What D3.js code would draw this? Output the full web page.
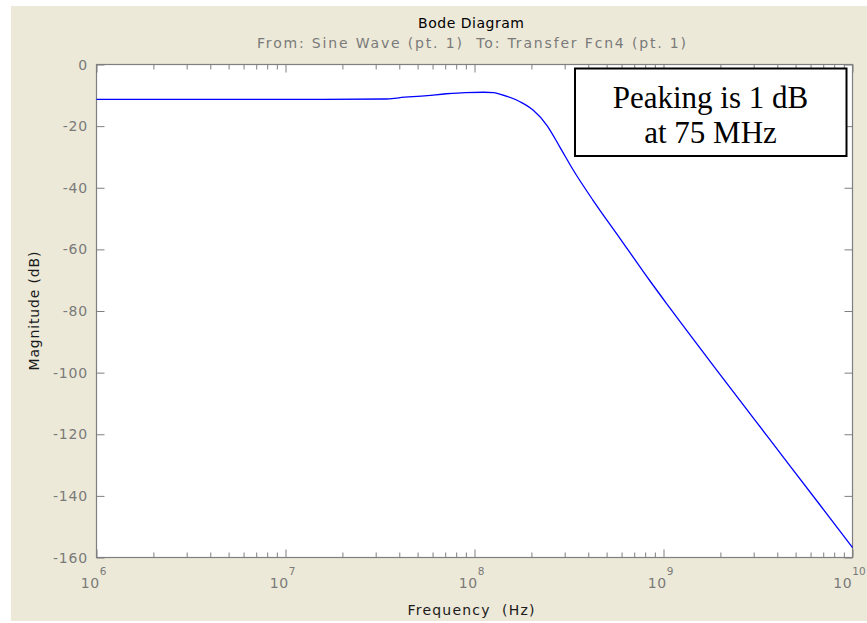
<!DOCTYPE html>
<html>
<head>
<meta charset="UTF-8" />
<style>
  body { margin: 0; background: #ffffff; }
  .tick-label { font-family: "DejaVu Sans", sans-serif; font-size: 14px; fill: #7a7a7a; }
  .axis-title { font-family: "DejaVu Sans", sans-serif; font-size: 14px; fill: #1a1a1a; }
</style>
<script src="https://d3js.org/d3.v7.min.js"></script>
</head>
<body>
<svg width="867" height="623"></svg>
<script>
// values
var freqHz = [1e6, 1.58e7, 3.39e7, 3.98e7, 5.62e7, 7.08e7, 8.91e7, 1.12e8, 1.26e8, 1.36e8,
  1.74e8, 2.04e8, 2.42e8, 2.83e8, 3.31e8, 4.23e8, 5.66e8, 6.89e8, 8.45e8, 1.08e9,
  1.98e9, 3.64e9, 6.70e9, 1e10];
var magDb = [-11.3, -11.3, -11.2, -10.8, -10.1, -9.5, -9.1, -9.0, -9.1, -9.6,
  -12.1, -14.8, -19.8, -26.8, -34.0, -44.0, -55.0, -62.4, -70.1, -79.0,
  -100.4, -121.6, -142.8, -156.8];
var yTicks = [0, -20, -40, -60, -80, -100, -120, -140, -160];
var xDecades = [1e6, 1e7, 1e8, 1e9, 1e10];
var titleText = "Bode Diagram";
var subtitleText = "From: Sine Wave (pt. 1)  To: Transfer Fcn4 (pt. 1)";
var xLabel = "Frequency  (Hz)";
var yLabel = "Magnitude (dB)";
var noteLines = ["Peaking is 1 dB", "at 75 MHz"];

var svg = d3.select("svg");

// beige figure background
svg.append("rect").attr("x", 11).attr("y", 6).attr("width", 856).attr("height", 615)
  .attr("fill", "#ece9d8");

var x = d3.scaleLog().domain([1e6, 1e10]).range([96.5, 852.5]);
var y = d3.scaleLinear().domain([-160, 0]).range([557.5, 64.5]);

svg.append("rect").attr("x", 96.5).attr("y", 64.5).attr("width", 756).attr("height", 493)
  .attr("fill", "#ffffff");

// minor ticks between decades
var minorTicks = [];
xDecades.slice(0, -1).forEach(function (d) {
  for (var k = 2; k <= 9; k++) minorTicks.push(d * k);
});

function styleAxis(g) {
  g.select(".domain").remove();
  g.selectAll("line").attr("stroke", "#7f7f7f");
  g.selectAll("text").remove();
}

svg.append("g").attr("transform", "translate(0,557.5)")
  .call(d3.axisBottom(x).tickValues(xDecades).tickSize(-8)).call(styleAxis);
svg.append("g").attr("transform", "translate(0,557.5)")
  .call(d3.axisBottom(x).tickValues(minorTicks).tickSize(-5)).call(styleAxis);
svg.append("g").attr("transform", "translate(0,64.5)")
  .call(d3.axisTop(x).tickValues(xDecades).tickSize(-8)).call(styleAxis);
svg.append("g").attr("transform", "translate(0,64.5)")
  .call(d3.axisTop(x).tickValues(minorTicks).tickSize(-5)).call(styleAxis);
svg.append("g").attr("transform", "translate(96.5,0)")
  .call(d3.axisLeft(y).tickValues(yTicks).tickSize(-8)).call(styleAxis);
svg.append("g").attr("transform", "translate(852.5,0)")
  .call(d3.axisRight(y).tickValues(yTicks).tickSize(-8)).call(styleAxis);

// y tick labels
svg.append("g").selectAll("text").data(yTicks).enter().append("text")
  .attr("class", "tick-label")
  .attr("x", 88).attr("y", function (d) { return y(d); }).attr("dy", "0.36em")
  .attr("text-anchor", "end").style("letter-spacing", "0.8px")
  .text(function (d) { return d; });

// x tick labels as 10^n
var xl = svg.append("g").selectAll("text").data(xDecades).enter().append("text")
  .attr("class", "tick-label")
  .attr("x", function (d) { return x(d) - 3; }).attr("y", 588)
  .attr("text-anchor", "middle");
xl.append("tspan").style("letter-spacing", "0.6px").text("10");
xl.append("tspan").attr("dy", -13).style("font-size", "10.5px")
  .text(function (d) { return Math.round(Math.log10(d)); });

// frame
svg.append("rect").attr("x", 96.5).attr("y", 64.5).attr("width", 756).attr("height", 493)
  .attr("fill", "none").attr("stroke", "#7f7f7f").attr("stroke-width", 1.2);

// magnitude curve
var pts = freqHz.map(function (f, i) { return [f, magDb[i]]; });
svg.append("path").datum(pts)
  .attr("fill", "none").attr("stroke", "#0000ff").attr("stroke-width", 1.3)
  .attr("d", d3.line().x(function (d) { return x(d[0]); }).y(function (d) { return y(d[1]); })
    .curve(d3.curveMonotoneX));

// titles
svg.append("text").attr("class", "axis-title").attr("x", 471).attr("y", 28)
  .attr("text-anchor", "middle").attr("textLength", 106).attr("lengthAdjust", "spacing")
  .style("fill", "#000").text(titleText);
svg.append("text").attr("class", "tick-label").attr("x", 471.5).attr("y", 48)
  .attr("text-anchor", "middle").attr("textLength", 429).attr("lengthAdjust", "spacing")
  .style("white-space", "pre").text(subtitleText);
svg.append("text").attr("class", "axis-title").attr("x", 471).attr("y", 615)
  .attr("text-anchor", "middle").attr("textLength", 127).attr("lengthAdjust", "spacing")
  .style("white-space", "pre").text(xLabel);
svg.append("text").attr("class", "axis-title")
  .attr("transform", "translate(39,311) rotate(-90)")
  .attr("text-anchor", "middle").attr("textLength", 119).attr("lengthAdjust", "spacing")
  .text(yLabel);

// annotation box
svg.append("rect").attr("x", 575).attr("y", 68.5).attr("width", 271.5).attr("height", 87.5)
  .attr("fill", "#ffffff").attr("stroke", "#000").attr("stroke-width", 2);
svg.append("g").selectAll("text").data(noteLines).enter().append("text")
  .attr("x", 710.5).attr("y", function (d, i) { return 108 + i * 35; })
  .attr("text-anchor", "middle")
  .style("font-family", "'Liberation Serif', 'Times New Roman', serif")
  .style("font-size", "31px").style("fill", "#000")
  .text(function (d) { return d; });
</script>
</body>
</html>
